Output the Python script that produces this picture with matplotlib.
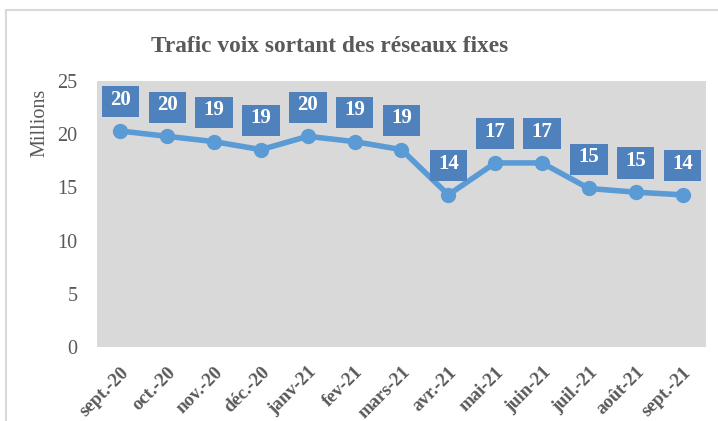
import matplotlib.pyplot as plt
from matplotlib.lines import Line2D
from matplotlib.path import Path
from matplotlib.transforms import ScaledTranslation

months = ["sept.-20", "oct.-20", "nov.-20", "déc.-20", "janv-21", "fev-21", "mars-21",
          "avr.-21", "mai-21", "juin-21", "juil.-21", "août-21", "sept.-21"]
traffic = [20.3, 19.8, 19.3, 18.55, 19.8, 19.3, 18.55, 14.3, 17.3, 17.3, 14.9, 14.55, 14.3]

gray = "#595959"
box_blue = "#4F81BD"
plt.rcParams["font.family"] = ["Liberation Serif", "DejaVu Serif"]


def label_box(x0, y0, width, height, mutation_size):
    # square box, a bit lower than the text layout box so digits look centred
    px, py, dy = 0.4 * mutation_size, 0.27 * mutation_size, 0.1 * mutation_size
    xa, xb = x0 - px, x0 + width + px
    ya, yb = y0 - py - dy, y0 + height + py - dy
    return Path([(xa, ya), (xb, ya), (xb, yb), (xa, yb), (xa, ya)], closed=True)


fig = plt.figure(figsize=(7.18, 4.21), dpi=100)
ax = fig.add_axes([97 / 718, 74 / 421, 609 / 718, 266 / 421])
ax.set_facecolor("#D9D9D9")

x = list(range(len(months)))
ax.plot(x, traffic, color="#5B9BD5", lw=4, marker="o", ms=10, zorder=3)

for xi, v in zip(x, traffic):
    ax.annotate(f"{v:.0f}", (xi, v), xytext=(0, 22.5), textcoords="offset points",
                ha="center", va="center", color="white", fontsize=15, fontweight="bold",
                bbox=dict(boxstyle=label_box, fc=box_blue, ec="none"), zorder=4)

ax.set_xlim(-0.5, len(months) - 0.5)
ax.set_ylim(0, 25)
ax.set_yticks([0, 5, 10, 15, 20, 25])
ax.set_xticks(x)
ax.set_xticklabels(months, rotation=45, ha="right", rotation_mode="anchor",
                   fontweight="bold", fontsize=13.5, color=gray)
shift = ScaledTranslation(3 / 100, 0, fig.dpi_scale_trans)
for lab in ax.get_xticklabels():
    lab.set_transform(lab.get_transform() + shift)
ax.tick_params(axis="y", length=0, labelsize=14.5, labelcolor=gray, pad=14)
ax.tick_params(axis="x", length=0, pad=12)
for s in ax.spines.values():
    s.set_visible(False)
ax.set_ylabel("Millions", fontsize=14.5, color=gray, loc="top")
ax.yaxis.set_label_coords(-0.078, 0.97)

fig.text(330 / 718, 1 - 46 / 421, "Trafic voix sortant des réseaux fixes", ha="center", va="center",
         fontsize=16.8, fontweight="bold", color=gray)

fig.add_artist(Line2D([5.5 / 718, 5.5 / 718], [0, 1 - 9.5 / 421], color="#D9D9D9", lw=1.5))
fig.add_artist(Line2D([5.5 / 718, 1], [1 - 9.5 / 421, 1 - 9.5 / 421], color="#D9D9D9", lw=1.5))

fig.savefig("out.png", dpi=100)
